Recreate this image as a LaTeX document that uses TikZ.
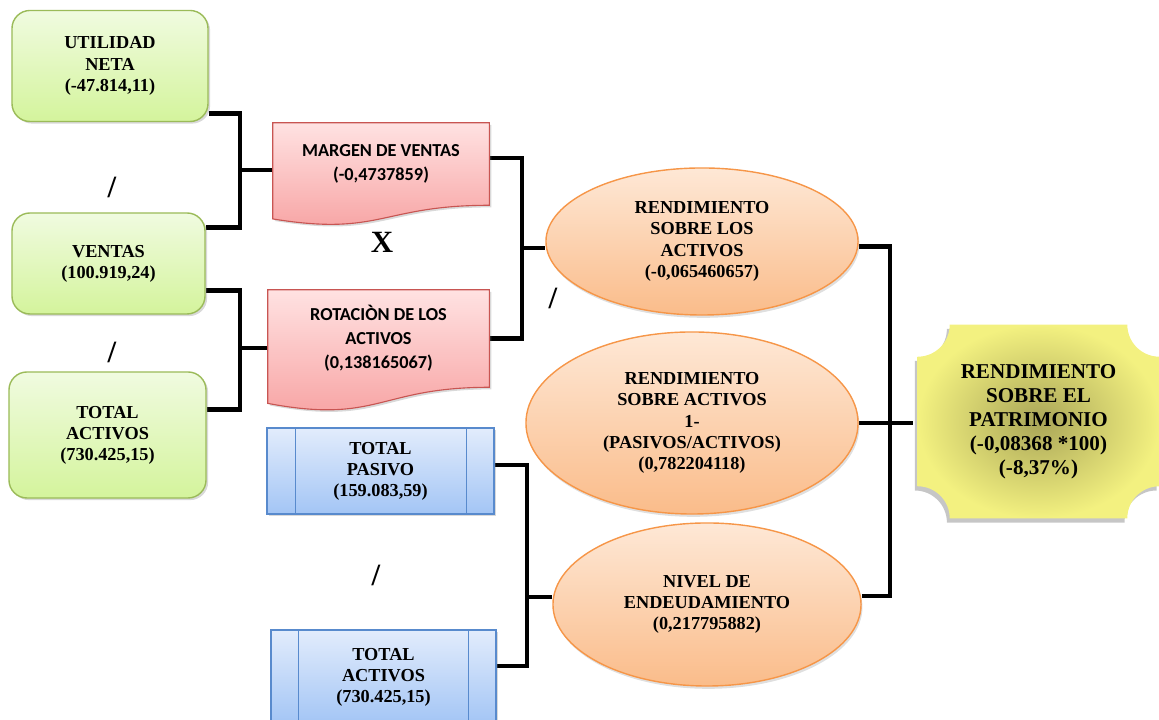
\documentclass[tikz,border=0pt]{standalone}
\usepackage{fontspec}
\setmainfont{Liberation Serif}
\newfontfamily\calfont{Carlito}
\usepackage{xcolor}
\usepackage{tikz}
\usetikzlibrary{positioning, shapes.geometric, calc, shadows, backgrounds}
\definecolor{greenedge}{RGB}{155,187,89}
\definecolor{greentop}{RGB}{240,251,224}
\definecolor{greenbot}{RGB}{212,244,156}
\definecolor{rededge}{RGB}{200,85,82}
\definecolor{redtop}{RGB}{255,226,226}
\definecolor{redbot}{RGB}{247,160,160}
\definecolor{blueedge}{RGB}{88,138,205}
\definecolor{bluetop}{RGB}{226,236,252}
\definecolor{bluebot}{RGB}{163,197,245}
\definecolor{orangeedge}{RGB}{246,150,72}
\definecolor{orangetop}{RGB}{254,232,214}
\definecolor{orangebot}{RGB}{250,188,138}
\definecolor{yellowout}{RGB}{243,241,128}
\definecolor{yellowin}{RGB}{170,166,88}

% wavy document outline around a rectangle node
\newcommand{\docshape}[1]{%
  \path[docfill] (#1.north west) -- (#1.north east) -- (#1.south east)
    .. controls (#1.south) and ($(#1.north)!1.38!(#1.south)$) ..
    ($(#1.north west)!1.165!(#1.south west)$) -- cycle;}
% plaque outline with hollow corners
\newcommand{\plaqueshape}[1]{%
  \path[plaquefill] ($(#1.north west)+(0.8cm,0)$) -- ($(#1.north east)+(-0.8cm,0)$)
    arc[start angle=180, end angle=270, radius=0.8cm] -- ($(#1.south east)+(0,0.8cm)$)
    arc[start angle=90, end angle=180, radius=0.8cm] -- ($(#1.south west)+(0.8cm,0)$)
    arc[start angle=0, end angle=90, radius=0.8cm] -- ($(#1.north west)+(0,-0.8cm)$)
    arc[start angle=270, end angle=360, radius=0.8cm] -- cycle;}

\begin{document}
\begin{tikzpicture}[x=0.025cm, y=0.025cm,
    every node/.style={align=center, text=black, inner sep=0pt},
    greenbox/.style={rectangle, rounded corners=0.45cm, draw=greenedge, line width=1pt,
      top color=greentop, bottom color=greenbot, font=\bfseries\fontsize{13}{15}\selectfont,
      drop shadow={shadow xshift=1.5pt, shadow yshift=-1.5pt, opacity=0.3}},
    docbox/.style={rectangle, font=\calfont\bfseries\fontsize{13}{17}\selectfont},
    docfill/.style={draw=rededge, line width=0.8pt, top color=redtop, bottom color=redbot,
      drop shadow={shadow xshift=1.5pt, shadow yshift=-1.5pt, opacity=0.3}},
    procbox/.style={rectangle, draw=blueedge, line width=1pt, top color=bluetop, bottom color=bluebot,
      font=\bfseries\fontsize{13}{15}\selectfont,
      drop shadow={shadow xshift=1.5pt, shadow yshift=-1.5pt, opacity=0.3}},
    ovalbox/.style={ellipse, draw=orangeedge, line width=1pt, top color=orangetop, bottom color=orangebot,
      font=\bfseries\fontsize{13}{15.2}\selectfont,
      drop shadow={shadow xshift=1pt, shadow yshift=-2pt, opacity=0.25}},
    plaquebox/.style={rectangle, font=\bfseries\fontsize{15}{17}\selectfont},
    plaquefill/.style={inner color=yellowin, outer color=yellowout,
      drop shadow={shadow xshift=-2pt, shadow yshift=-3pt, opacity=0.45}},
    opsign/.style={font=\bfseries\fontsize{22}{22}\selectfont},
    bracket/.style={line width=3.4pt, draw=black}]
\useasboundingbox (0,0) rectangle (1159,720);

% inputs
\node[greenbox, minimum width=4.9cm, minimum height=2.775cm] (util) at (110,654) {UTILIDAD\\NETA\\(-47.814,11)};
\node[greenbox, minimum width=4.825cm, minimum height=2.525cm] (vent) at (108.5,456.5) {VENTAS\\(100.919,24)};
\node[greenbox, minimum width=4.925cm, minimum height=3.15cm] (tact) at (107.5,285) {TOTAL\\ACTIVOS\\(730.425,15)};

% ratios
\node[docbox, minimum width=5.4cm, minimum height=2.05cm] (marg) at (381,556) {MARGEN DE VENTAS\\(-0,4737859)};
\node[docbox, minimum width=5.525cm, minimum height=2.425cm] (rot) at (378.5,381.5) {ROTACIÒN DE LOS\\ACTIVOS\\(0,138165067)};
\node[procbox, minimum width=5.675cm, minimum height=2.15cm] (pas) at (380.5,249) {TOTAL\\PASIVO\\(159.083,59)};
\node[procbox, minimum width=5.625cm, minimum height=2.35cm] (tact2) at (383.5,43) {TOTAL\\ACTIVOS\\(730.425,15)};
\draw[blueedge, line width=1pt] ($(pas.north west)+(29,0)$) -- ($(pas.south west)+(29,0)$);
\draw[blueedge, line width=1pt] ($(pas.north east)+(-28,0)$) -- ($(pas.south east)+(-28,0)$);
\draw[blueedge, line width=1pt] ($(tact2.north west)+(28,0)$) -- ($(tact2.south west)+(28,0)$);
\draw[blueedge, line width=1pt] ($(tact2.north east)+(-28,0)$) -- ($(tact2.south east)+(-28,0)$);

\node[ovalbox, minimum width=7.8cm, minimum height=3.675cm] (roa) at (702,478.5) {RENDIMIENTO\\SOBRE LOS\\ACTIVOS\\(-0,065460657)};
\node[ovalbox, minimum width=8.3cm, minimum height=4.55cm] (rsa) at (692,297) {RENDIMIENTO\\SOBRE ACTIVOS\\1-\\(PASIVOS/ACTIVOS)\\(0,782204118)};
\node[ovalbox, minimum width=7.7cm, minimum height=4.075cm] (niv) at (707,115.5) {NIVEL DE\\ENDEUDAMIENTO\\(0,217795882)};

\node[plaquebox, minimum width=6.025cm, minimum height=4.825cm] (roe) at (1038.5,298.5) {RENDIMIENTO\\SOBRE EL\\PATRIMONIO\\(-0,08368 *100)\\(-8,37\%)};

% operators
\node[opsign] (s1) at (112,533) {/};
\node[opsign] (s2) at (112,368) {/};
\node[opsign] (s3) at (376,145) {/};
\node[opsign] (s4) at (553,422) {/};
\node[font=\bfseries\fontsize{22}{22}\selectfont] (times) at (382,478) {X};

\coordinate (j1) at (240,550);
\coordinate (j2) at (240,372);
\coordinate (j3) at (522,472);
\coordinate (j4) at (527,123);
\coordinate (j5) at (890,300);

\begin{scope}[on background layer]
  \draw[bracket] ($(util.south east)+(0,8.5)$) -| (j1) |- ($(vent.north east)+(0,-15)$);
  \draw[bracket] (j1) -- (j1 -| marg.west);
  \draw[bracket] ($(vent.south east)+(0,24)$) -| (j2) |- ($(tact.north east)+(0,-38)$);
  \draw[bracket] (j2) -- (j2 -| rot.west);
  \draw[bracket] ($(marg.east)+(0,6)$) -| (j3) |- (rot.east);
  \draw[bracket] (j3) -- (j3 -| roa.west);
  \draw[bracket] ($(pas.east)+(0,6)$) -| (j4) |- ($(tact2.east)+(0,11)$);
  \draw[bracket] (j4) -- (j4 -| niv.west);
  \draw[bracket] ($(roa.east)+(0,-5)$) -| (j5) |- ($(niv.east)+(0,8.5)$);
  \draw[bracket] (rsa.east) -- ($(rsa.east -| roe.west)+(-5,0)$);
  \docshape{marg}
  \docshape{rot}
  \plaqueshape{roe}
\end{scope}
\end{tikzpicture}
\end{document}
